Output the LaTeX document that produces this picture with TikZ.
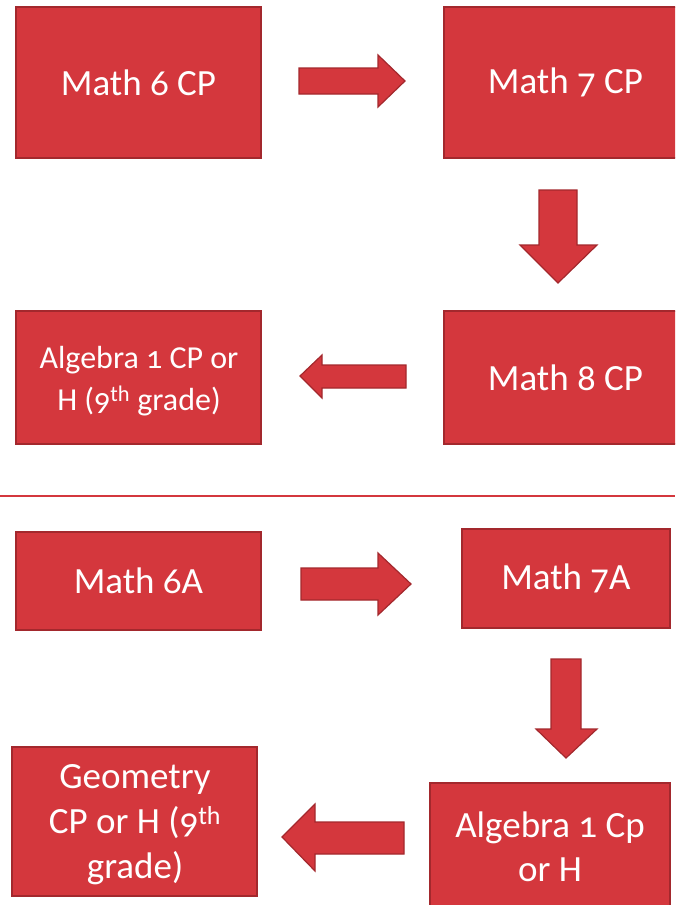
\documentclass[tikz,border=0pt]{standalone}
\usepackage{fontspec}
\setmainfont{Carlito}[Numbers=OldStyle]
\definecolor{boxfill}{HTML}{D4373D}
\definecolor{boxline}{HTML}{A3282D}
\begin{document}
\begin{tikzpicture}[x=1pt,y=-1pt,
  box/.style={draw=boxline, line width=1.5pt, fill=boxfill, text=white, align=center, inner sep=0pt, anchor=center},
  lbl/.style={text=white, align=center, inner sep=0pt, anchor=center},
  big/.style={font=\fontsize{37}{44}\selectfont},
  small/.style={font=\fontsize{32}{42}\selectfont},
  blockarrow/.style={draw=boxline, line width=1.2pt, fill=boxfill, line join=miter}]
\useasboundingbox (0,0) rectangle (675,905);
\clip (0,0) rectangle (675,905);
% top part
\node[box, big, minimum width=245pt, minimum height=151pt] (m6cp) at (138.5,82.5) {Math 6 CP};
\node[box, big, minimum width=243pt, minimum height=151pt] (m7cp) at (565.5,82.5) {Math 7 CP};
\node[box, big, minimum width=243pt, minimum height=133pt] (m8cp) at (565.5,377.5) {Math 8 CP};
\node[box, minimum width=245pt, minimum height=133pt] (alg9) at (138.5,377.5) {};
\node[lbl, small] (alg9t) at (139,381) {Algebra 1 CP or\\H (9\textsuperscript{th} grade)};
\draw[blockarrow] (299,68) -- (378,68) -- (378,55) -- (405,81) -- (378,107) -- (378,94) -- (299,94) -- cycle;
\draw[blockarrow] (539,190) -- (577,190) -- (577,245) -- (597,245) -- (558,283) -- (520,245) -- (539,245) -- cycle;
\draw[blockarrow] (406,365) -- (322,365) -- (322,355) -- (300,376) -- (322,398) -- (322,388) -- (406,388) -- cycle;
% separator
\coordinate (sepL) at (0,496);
\coordinate (sepR) at (675,496);
\draw[boxfill, line width=2pt] (sepL) -- (sepR);
% bottom part
\node[box, big, minimum width=245pt, minimum height=98pt] (m6a) at (138.5,581) {Math 6A};
\node[box, big, minimum width=208pt, minimum height=99pt] (m7a) at (566,578.5) {Math 7A};
\node[box, big, minimum width=240pt, minimum height=127pt] (alg1) at (550,846.5) {Algebra 1 Cp\\or H};
\node[box, minimum width=245pt, minimum height=149pt] (geo) at (134.5,821.5) {};
\node[lbl, font=\fontsize{37}{45}\selectfont] (geot) at (135,825) {Geometry\\CP or H (9\textsuperscript{th}\\grade)};
\draw[blockarrow] (301,568) -- (378,568) -- (378,553) -- (411,584) -- (378,615) -- (378,600) -- (301,600) -- cycle;
\draw[blockarrow] (551,659) -- (581,659) -- (581,729) -- (597,729) -- (566,758) -- (536,729) -- (551,729) -- cycle;
\draw[blockarrow] (404,822) -- (315,822) -- (315,804) -- (282,837) -- (315,871) -- (315,854) -- (404,854) -- cycle;
\end{tikzpicture}
\end{document}
